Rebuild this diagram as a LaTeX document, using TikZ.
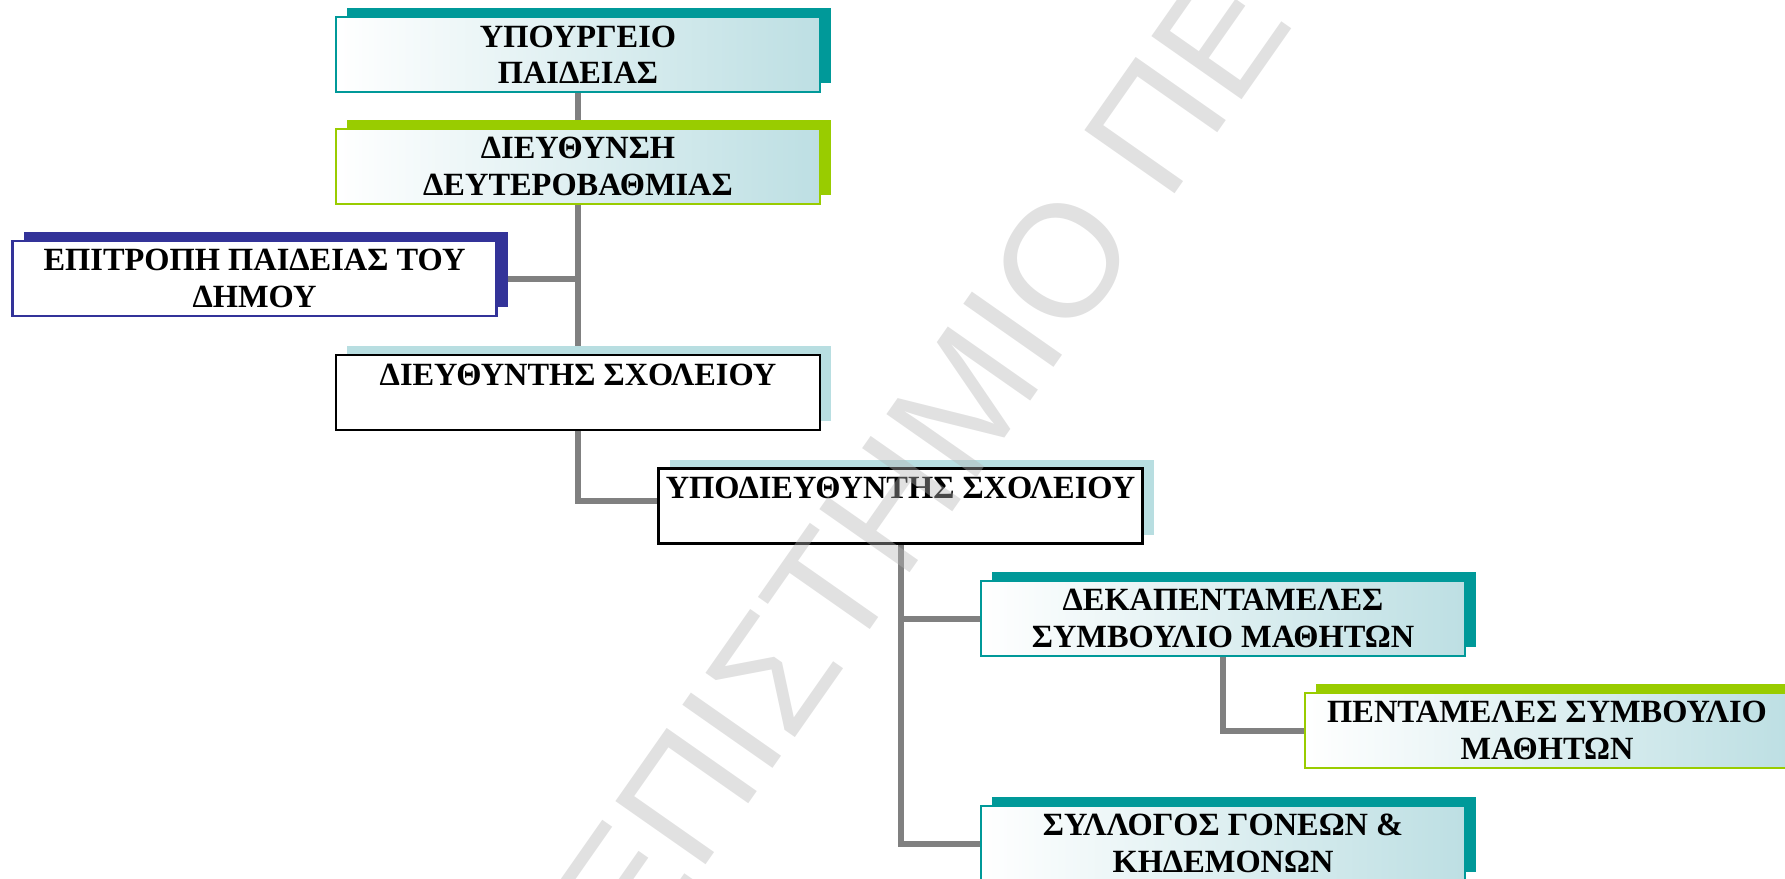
\documentclass[tikz,border=0pt]{standalone}
\usepackage{fontspec}
\setmainfont{Liberation Serif}
\newfontfamily\markfont{Liberation Sans}
\usepackage{xcolor}
\usetikzlibrary{positioning,shadows,backgrounds}

\definecolor{tealdark}{HTML}{009999}
\definecolor{greenbar}{HTML}{99CC00}
\definecolor{navyblue}{HTML}{333399}
\definecolor{paleteal}{HTML}{B8DEE1}
\definecolor{gradteal}{HTML}{BDDFE3}
\definecolor{linkgray}{HTML}{808080}
\definecolor{markgray}{HTML}{B4B4B4}

\begin{document}
\begin{tikzpicture}[
    x=0.5pt, y=-0.5pt,
    font=\bfseries\fontsize{16.2}{18.2}\selectfont,
    orgbox/.style={draw, line width=1.1pt, align=center, minimum width=242pt, minimum height=37.5pt, inner sep=2pt},
    shaded/.style={orgbox, left color=white, right color=gradteal},
    shadowed/.style={general shadow={fill=#1, shadow xshift=5.5pt, shadow yshift=4.5pt}},
    tealbox/.style={shaded, draw=tealdark, shadowed=tealdark},
    greenbox/.style={shaded, draw=greenbar, shadowed=greenbar},
    navybox/.style={orgbox, fill=white, draw=navyblue, shadowed=navyblue},
    plainbox/.style={orgbox, fill=white, draw=black, shadowed=paleteal},
    link/.style={draw=linkgray, line width=3pt},
]
\useasboundingbox (0,0) rectangle (1785,879);

\node[tealbox] (ministry) at (578,54.5) {ΥΠΟΥΡΓΕΙΟ\\ΠΑΙΔΕΙΑΣ};
\node[greenbox] (directorate) at (578,166.5) {ΔΙΕΥΘΥΝΣΗ\\ΔΕΥΤΕΡΟΒΑΘΜΙΑΣ};
\node[navybox] (committee) at (254.5,278.5) {ΕΠΙΤΡΟΠΗ ΠΑΙΔΕΙΑΣ ΤΟΥ\\ΔΗΜΟΥ};
\node[plainbox] (head) at (578,392.5) {ΔΙΕΥΘΥΝΤΗΣ ΣΧΟΛΕΙΟΥ\\\phantom{Ι}};
\node[plainbox] (deputy) at (900.5,506) {ΥΠΟΔΙΕΥΘΥΝΤΗΣ ΣΧΟΛΕΙΟΥ\\\phantom{Ι}};
\node[tealbox] (council15) at (1223,618.5) {ΔΕΚΑΠΕΝΤΑΜΕΛΕΣ\\ΣΥΜΒΟΥΛΙΟ ΜΑΘΗΤΩΝ};
\node[greenbox] (council5) at (1547,730.5) {ΠΕΝΤΑΜΕΛΕΣ ΣΥΜΒΟΥΛΙΟ\\ΜΑΘΗΤΩΝ};
\node[tealbox] (parents) at (1223,843.5) {ΣΥΛΛΟΓΟΣ ΓΟΝΕΩΝ \&\\ΚΗΔΕΜΟΝΩΝ};

% connectors behind the boxes
\begin{scope}[on background layer]
\draw[link] (ministry) -- (directorate);
\draw[link] (directorate) -- (head);
\draw[link] (committee.east) -- (committee -| head);
\draw[link] (head.south) |- ([yshift=2.5pt]deputy.west);
\draw[link] (deputy.south) |- (council15.west);
\draw[link] (deputy.south) |- (parents.west);
\draw[link] (council15.south) |- (council5.west);
\end{scope}

% watermark
\node[rotate=55, anchor=base west, inner sep=0pt, font=\markfont\fontsize{80}{80}\selectfont, text=markgray, text opacity=0.4] (mark) at (636.9,963.2) {ΕΠΙΣΤΗΜΙΟ ΠΕ};
\end{tikzpicture}
\end{document}
